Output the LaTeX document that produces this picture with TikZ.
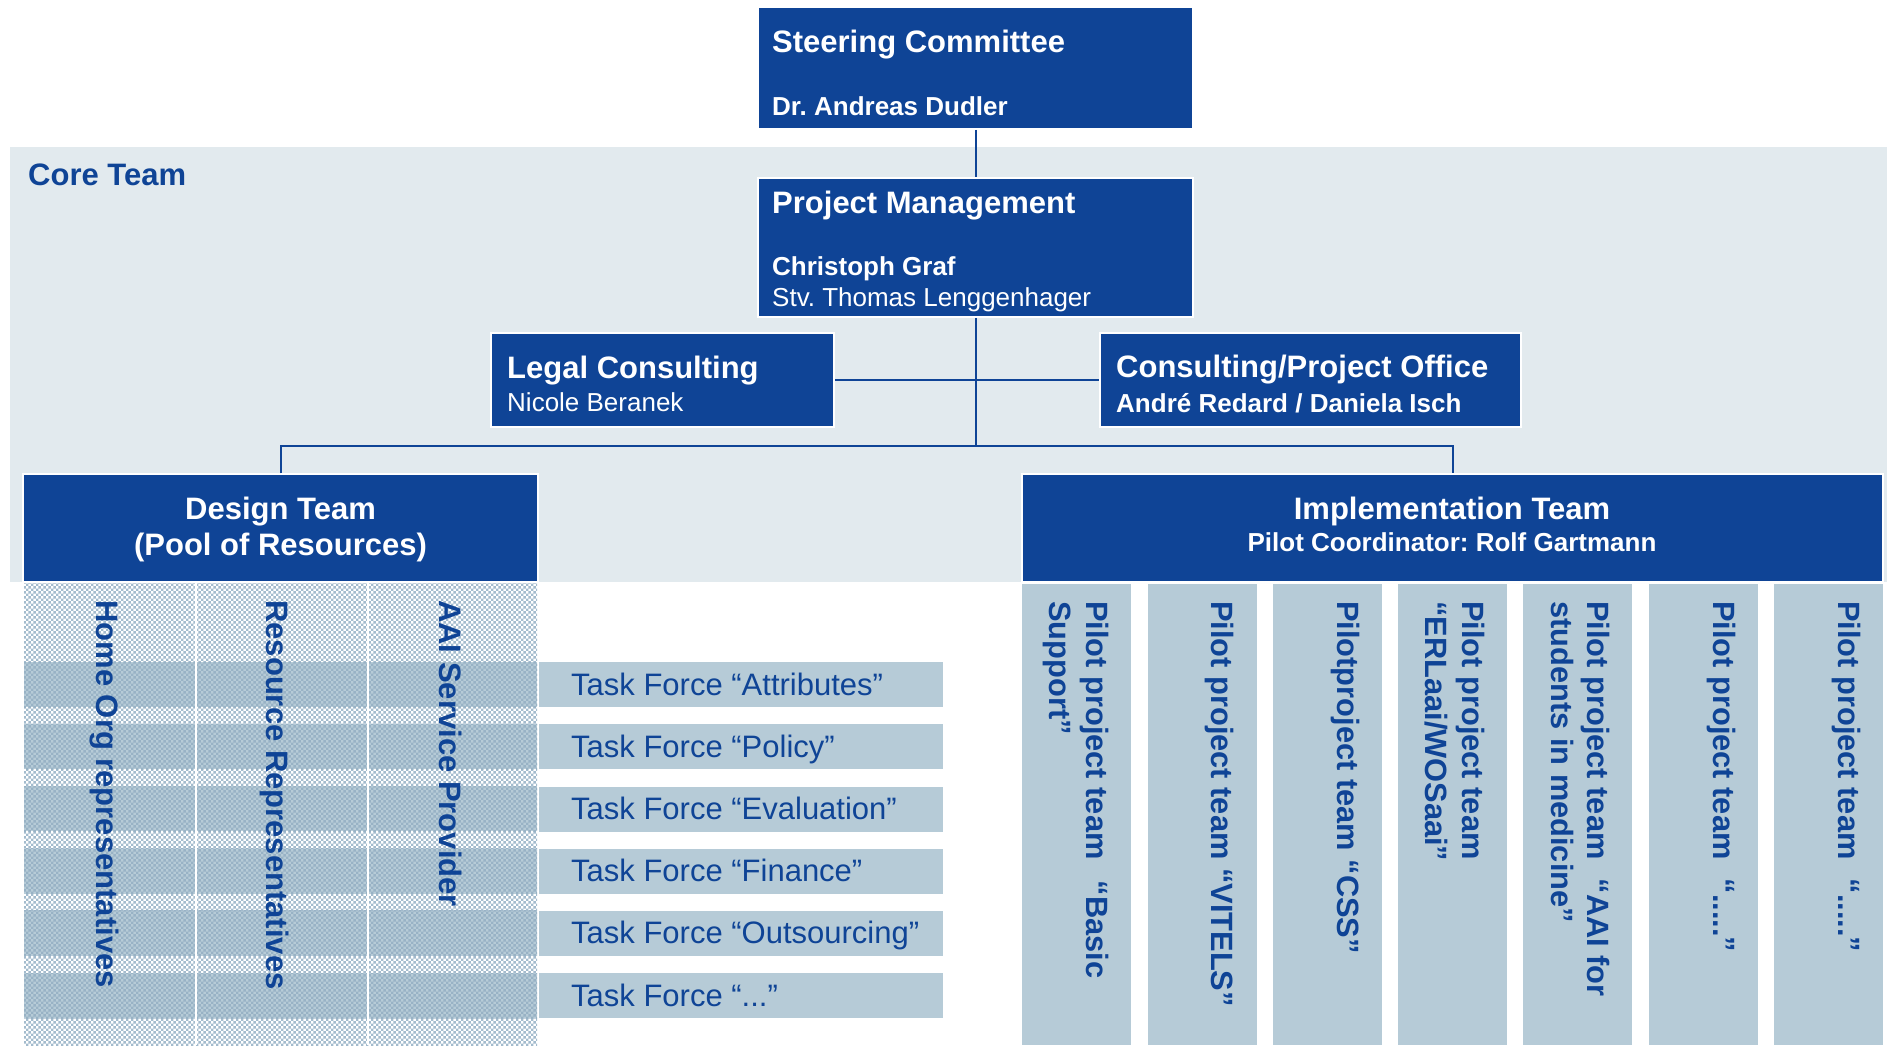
\documentclass[tikz,border=0pt]{standalone}
\usepackage{fontspec}
\setmainfont{Liberation Sans}
\usetikzlibrary{patterns}
\frenchspacing
\definecolor{dblue}{RGB}{15,68,150}
\definecolor{coreBg}{RGB}{226,234,238}
\definecolor{tfFill}{RGB}{182,203,215}
\definecolor{hatchA}{RGB}{163,187,205}
\definecolor{hatchB}{RGB}{152,178,197}
\pgfdeclarepatternformonly{checker}{\pgfpointorigin}{\pgfqpoint{5.4pt}{5.4pt}}{\pgfqpoint{5.4pt}{5.4pt}}{%
  \pgfpathrectangle{\pgfpointorigin}{\pgfqpoint{2.7pt}{2.7pt}}%
  \pgfpathrectangle{\pgfqpoint{2.7pt}{2.7pt}}{\pgfqpoint{2.7pt}{2.7pt}}%
  \pgfusepath{fill}}
\begin{document}
\begin{tikzpicture}[x=1pt,y=-1pt,
  bluebox/.style={draw=white, line width=1.5pt, fill=dblue, inner sep=0pt},
  conn/.style={draw=dblue, line width=2pt},
  ttl/.style={inner sep=0pt, text=white, font=\fontsize{31}{36}\selectfont\bfseries},
  subb/.style={inner sep=0pt, text=white, font=\fontsize{26}{30}\selectfont\bfseries},
  subr/.style={inner sep=0pt, text=white, font=\fontsize{26}{30}\selectfont},
  tfbox/.style={fill=tfFill, inner sep=0pt, anchor=north west, minimum width=404pt, minimum height=45pt},
  tftext/.style={inner sep=0pt, anchor=base west, text=dblue, font=\fontsize{31}{36}\selectfont},
  pilotbox/.style={fill=tfFill, inner sep=0pt, anchor=north west, minimum width=109pt, minimum height=461pt},
  pilottext/.style={inner sep=0pt, rotate=-90, anchor=north west, align=left, text=dblue, font=\fontsize{30.8}{36.5}\selectfont\bfseries},
  coltext/.style={inner sep=0pt, rotate=-90, anchor=base west, text=dblue, font=\fontsize{31}{36}\selectfont\bfseries}]
\useasboundingbox (0,0) rectangle (1887,1045);
\fill[white] (0,0) rectangle (1887,1045);
% core team background
\node[fill=coreBg, inner sep=0pt, anchor=north west, minimum width=1877pt, minimum height=435pt] (core) at (10,147) {};
\node[inner sep=0pt, anchor=base west, text=dblue, font=\fontsize{31}{36}\selectfont\bfseries] (coretitle) at (28,185) {Core Team};
% boxes
\node[bluebox, minimum width=435pt, minimum height=122pt] (sc) at (975.5,68) {};
\node[bluebox, minimum width=435pt, minimum height=139pt] (pm) at (975.5,247.5) {};
\node[bluebox, minimum width=343pt, minimum height=94pt] (legal) at (662.5,380) {};
\node[bluebox, minimum width=421pt, minimum height=94pt] (cons) at (1310.5,380) {};
\node[bluebox, minimum width=515pt, minimum height=108pt] (design) at (280.5,528) {};
\node[bluebox, minimum width=861pt, minimum height=108pt] (impl) at (1452.5,528) {};
% connectors
\coordinate (bus) at (975.5,446);
\draw[conn] (sc.south) -- (pm.north);
\draw[conn] (pm.south) -- (bus);
\draw[conn] (legal.east) -- (cons.west);
\draw[conn] (design.north) |- (bus) -| (impl.north);
% box texts
\node[ttl, anchor=base west] (sct) at (772,52) {Steering Committee};
\node[subb, anchor=base west] (scn) at (772,115) {Dr. Andreas Dudler};
\node[ttl, anchor=base west] (pmt) at (772,213) {Project Management};
\node[subb, anchor=base west] (pmn) at (772,275) {Christoph Graf};
\node[subr, anchor=base west] (pms) at (772,306) {Stv. Thomas Lenggenhager};
\node[ttl, anchor=base west] (legalt) at (507,378) {Legal Consulting};
\node[subr, anchor=base west] (legaln) at (507,411) {Nicole Beranek};
\node[ttl, anchor=base west] (const) at (1116,377) {Consulting/Project Office};
\node[subb, anchor=base west] (consn) at (1116,412) {André Redard / Daniela Isch};
\node[ttl, anchor=base] (designt) at (280.5,519) {Design Team};
\node[ttl, anchor=base] (designs) at (280.5,555) {(Pool of Resources)};
\node[ttl, anchor=base] (implt) at (1452,519) {Implementation Team};
\node[subb, anchor=base] (impls) at (1452,551) {Pilot Coordinator: Rolf Gartmann};
% design team hatched columns
\fill[white] (24,583) rectangle (537,1045);
\fill[pattern=checker, pattern color=hatchA] (24,583) rectangle (537,1045);
\foreach \i in {0,...,5} {
  \pgfmathsetmacro\yt{662+62.2*\i}
  \pgfmathsetmacro\yb{\yt+45}
  \fill[tfFill] (24,\yt) rectangle (537,\yb);
  \fill[pattern=checker, pattern color=hatchB] (24,\yt) rectangle (537,\yb);
}
\draw[white, line width=2.2pt] (196,583) -- (196,1045);
\draw[white, line width=2.2pt] (368,583) -- (368,1045);
\node[coltext] (col1) at (96.5,600) {Home Org representatives};
\node[coltext] (col2) at (266,600) {Resource Representatives};
\node[coltext] (col3) at (439,600) {AAI Service Provider};
% task forces
\foreach \i/\t in {0/Attributes,1/Policy,2/Evaluation,3/Finance,4/Outsourcing} {
  \pgfmathsetmacro\yt{662+62.2*\i}
  \pgfmathsetmacro\yb{\yt+33}
  \node[tfbox] (tf\i) at (539,\yt) {};
  \node[tftext] (tft\i) at (571,\yb) {Task Force “\t”};
}
\node[tfbox] (tf5) at (539,973) {};
\node[tftext] (tft5) at (571,1006) {Task Force “...”};
% pilot columns
\foreach \i in {0,...,6} {
  \pgfmathsetmacro\xl{1022+125.3*\i}
  \node[pilotbox] (p\i) at (\xl,584) {};
}
\node[pilottext] (pt0) at (1109,601) {Pilot project team\hspace*{21pt}“Basic\\Support”};
\node[pilottext] (pt1) at (1234.3,601) {Pilot project team “VITELS”};
\node[pilottext] (pt2) at (1359.6,601) {Pilotproject team “CSS”};
\node[pilottext] (pt3) at (1484.9,601) {Pilot project team\\“ERLaai/WOSaai”};
\node[pilottext] (pt4) at (1610.2,601) {Pilot project team\hspace*{19pt}“AAI for\\students in medicine”};
\node[pilottext] (pt5) at (1735.5,601) {Pilot project team\hspace*{19pt}“.....”};
\node[pilottext] (pt6) at (1860.8,601) {Pilot project team\hspace*{19pt}“.....”};
\end{tikzpicture}
\end{document}
